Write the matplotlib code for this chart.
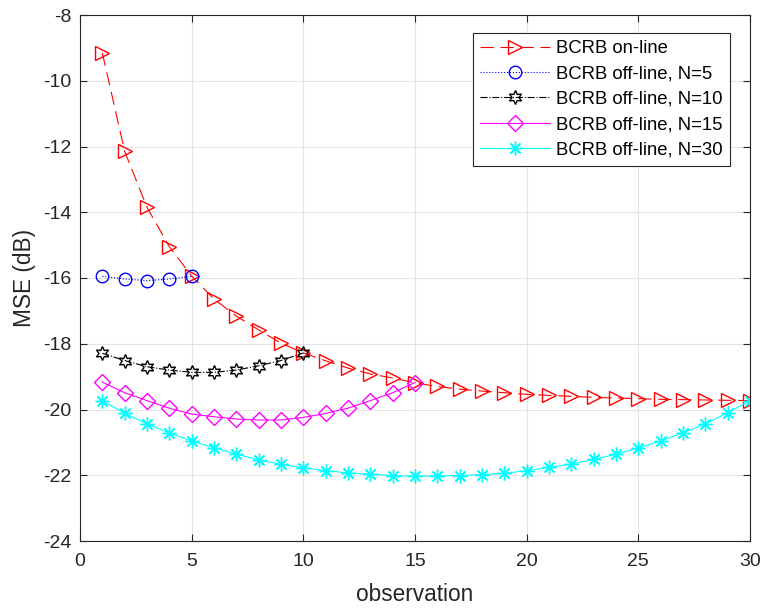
import numpy as np
import matplotlib
matplotlib.use("Agg")
import matplotlib.pyplot as plt

plt.rcParams["font.family"] = ["Liberation Sans", "DejaVu Sans"]
plt.rcParams["axes.unicode_minus"] = False

# observation index
obs_online = np.arange(1, 31)
obs_n5 = np.arange(1, 6)
obs_n10 = np.arange(1, 11)
obs_n15 = np.arange(1, 16)
obs_n30 = np.arange(1, 31)

mse_online = [-9.15, -12.15, -13.85, -15.05, -15.94, -16.64, -17.16, -17.58, -17.98, -18.28,
              -18.52, -18.74, -18.92, -19.04, -19.19, -19.30, -19.38, -19.44, -19.49, -19.54,
              -19.57, -19.60, -19.63, -19.65, -19.67, -19.69, -19.70, -19.71, -19.72, -19.73]
mse_n5 = [-15.95, -16.03, -16.08, -16.03, -15.95]
mse_n10 = [-18.29, -18.51, -18.70, -18.80, -18.87, -18.87, -18.80, -18.67, -18.51, -18.28]
mse_n15 = [-19.17, -19.49, -19.73, -19.96, -20.14, -20.22, -20.29, -20.32, -20.32, -20.24,
           -20.12, -19.96, -19.73, -19.49, -19.18]
mse_n30 = [-19.74, -20.11, -20.44, -20.71, -20.96, -21.16, -21.36, -21.53, -21.67, -21.77,
           -21.86, -21.93, -21.97, -22.01, -22.03, -22.02, -22.01, -21.98, -21.94, -21.86,
           -21.76, -21.66, -21.52, -21.36, -21.17, -20.96, -20.71, -20.44, -20.10, -19.73]

labels = ["BCRB on-line", "BCRB off-line, N=5", "BCRB off-line, N=10",
          "BCRB off-line, N=15", "BCRB off-line, N=30"]

fig = plt.figure(figsize=(7.62, 6.09), dpi=100)
ax = fig.add_axes([80 / 762, 1 - 541 / 609, 670 / 762, 526 / 609])

lw = 0.8
ax.plot(obs_online, mse_online, color="red", linestyle=(0, (12, 6)), linewidth=lw,
        marker=">", markersize=10, markerfacecolor="none", markeredgewidth=1.0,
        label=labels[0])
ax.plot(obs_n5, mse_n5, color="blue", linestyle=":", linewidth=lw,
        marker="o", markersize=9, markerfacecolor="none", markeredgewidth=1.0,
        label=labels[1])
ax.plot(obs_n10, mse_n10, color="black", linestyle="-.", linewidth=lw,
        marker=(6, 1, 0), markersize=10, markerfacecolor="none", markeredgewidth=1.0,
        label=labels[2])
ax.plot(obs_n15, mse_n15, color="magenta", linestyle="-", linewidth=lw,
        marker="D", markersize=8, markerfacecolor="none", markeredgewidth=1.0,
        label=labels[3])
ax.plot(obs_n30, mse_n30, color="cyan", linestyle="-", linewidth=lw,
        marker=(8, 2, 0), markersize=10, markeredgewidth=1.0,
        label=labels[4])

ax.set_xlim(0, 30)
ax.set_ylim(-24, -8)
ax.set_xticks(np.arange(0, 31, 5))
ax.set_yticks(np.arange(-24, -7, 2))
ax.grid(True, color="#e3e3e3", linewidth=0.8)
ax.set_axisbelow(True)
ax.tick_params(direction="in", top=True, right=True, labelsize=14, colors="#262626",
               length=5, width=0.8)
ax.tick_params(axis="x", pad=9)
ax.tick_params(axis="y", pad=6)
for s in ax.spines.values():
    s.set_color("#262626")
    s.set_linewidth(0.8)

ax.set_xlabel("observation", fontsize=16.3, color="#262626", labelpad=9)
ax.set_ylabel("MSE (dB)", fontsize=16.3, color="#262626", labelpad=5)

leg = ax.legend(loc="upper right", bbox_to_anchor=(0.970, 0.966), fontsize=13.3,
                fancybox=False, edgecolor="#262626", framealpha=1, borderaxespad=0,
                handlelength=3.8, handletextpad=0.3, borderpad=0.4, labelspacing=0.45)
leg.get_frame().set_linewidth(0.8)

fig.savefig("out.png", dpi=100)
